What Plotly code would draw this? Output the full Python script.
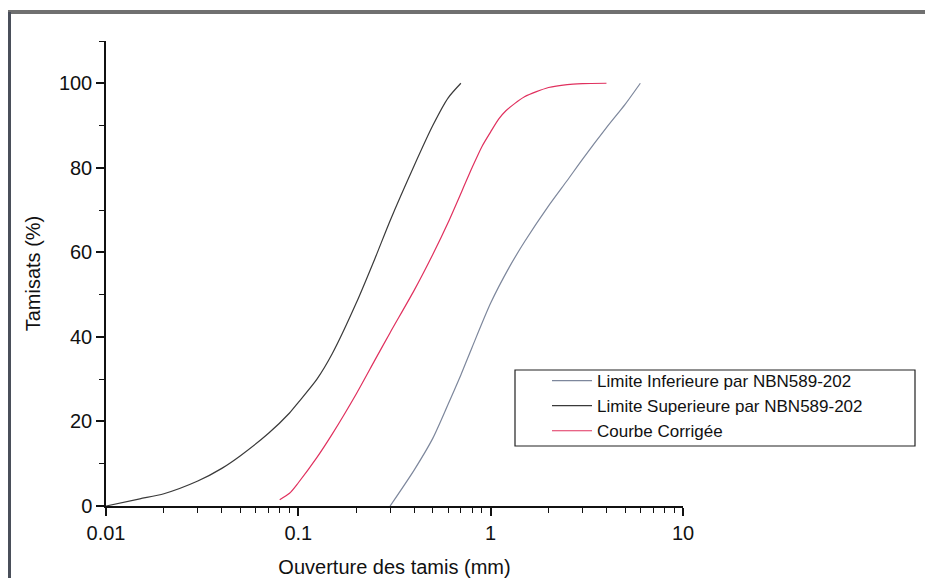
import plotly.graph_objects as go

# ---- data ----
inf_x = [0.3, 0.4, 0.5, 0.6, 0.7, 0.8, 1.0, 1.25, 1.5, 2.0, 2.5, 3.0, 4.0, 5.0, 6.0]
inf_y = [0, 8.5, 16, 24, 31, 37.5, 48, 56.5, 62.5, 71, 77, 82, 89.5, 95, 100]

sup_x = [0.01, 0.015, 0.02, 0.03, 0.04, 0.05, 0.07, 0.09, 0.1, 0.125, 0.15, 0.2, 0.25, 0.3, 0.4, 0.5, 0.6, 0.7]
sup_y = [0, 1.7, 2.9, 5.9, 8.9, 11.9, 17.2, 22.0, 24.5, 30.0, 36.0, 48.0, 58.5, 67.5, 80.5, 90, 96.5, 100]

cor_x = [0.08, 0.09, 0.1, 0.125, 0.15, 0.2, 0.25, 0.3, 0.4, 0.5, 0.6, 0.8, 0.9, 1.0, 1.1, 1.2, 1.5, 2.0, 2.5, 3.0, 4.0]
cor_y = [1.5, 3.0, 5.5, 11.5, 17, 26.5, 34.5, 41, 51, 59.5, 67, 80, 85, 88.5, 91.5, 93.5, 96.8, 99, 99.7, 99.9, 100]

names = ["Limite Inferieure par NBN589-202", "Limite Superieure par NBN589-202", "Courbe Corrigée"]
x_tickvals = [0.01, 0.1, 1, 10]
x_ticktext = ["0.01", "0.1", "1", "10"]

FONT = "Liberation Sans, Arial, sans-serif"
SM = 0.7

fig = go.Figure()
fig.add_trace(go.Scatter(x=inf_x, y=inf_y, name=names[0], mode="lines",
                         line=dict(color="#7d879c", width=1.2, shape="spline", smoothing=SM)))
fig.add_trace(go.Scatter(x=sup_x, y=sup_y, name=names[1], mode="lines",
                         line=dict(color="#3a3a3a", width=1.2, shape="spline", smoothing=SM)))
fig.add_trace(go.Scatter(x=cor_x, y=cor_y, name=names[2], mode="lines",
                         line=dict(color="#e0305e", width=1.2, shape="spline", smoothing=SM)))

# page body has an 8px margin: figure coordinates = screen - 8
OFF = 8
W, H = 925, 570
L, T = 106 - OFF, 41 - OFF
PR, PB = 683 - OFF, 506 - OFF
R, B = W - PR, H - PB
pw, ph = PR - L, PB - T

def px(xs):
    return (xs - OFF - L) / pw

def py(ys):
    return (PB - (ys - OFF)) / ph

fig.update_layout(
    width=W, height=H,
    margin=dict(l=L, r=R, t=T, b=B, autoexpand=False),
    paper_bgcolor="white", plot_bgcolor="white",
    font=dict(family=FONT, size=20, color="#111"),
    showlegend=True,
    legend=dict(x=px(547), y=py(363), xanchor="left", yanchor="top",
                bgcolor="rgba(0,0,0,0)", borderwidth=0,
                font=dict(family=FONT, size=17, color="#111"),
                itemwidth=40, tracegroupgap=0),
    xaxis=dict(type="log", range=[-2, 1], showgrid=False, zeroline=False,
               showline=True, linecolor="#111", linewidth=1.5,
               ticks="outside", ticklen=8, tickwidth=1.5, tickcolor="#111",
               tickvals=x_tickvals, ticktext=x_ticktext,
               tickfont=dict(family=FONT, size=20, color="#111"),
               minor=dict(ticks="outside", ticklen=5, tickwidth=1.2, tickcolor="#111",
                          dtick="D1", showgrid=False),
               title=dict(text="Ouverture des tamis (mm)", standoff=17,
                          font=dict(family=FONT, size=20, color="#111")),
               anchor="y", automargin=False),
    yaxis=dict(range=[0, 110], showgrid=False, zeroline=False,
               showline=True, linecolor="#111", linewidth=1.5,
               ticks="outside", ticklen=8, tickwidth=1.5, tickcolor="#111",
               tick0=0, dtick=20,
               tickfont=dict(family=FONT, size=20, color="#111"),
               minor=dict(ticks="outside", ticklen=5, tickwidth=1.2, tickcolor="#111",
                          dtick=10, showgrid=False),
               title=dict(text="Tamisats (%)", standoff=13,
                          font=dict(family=FONT, size=20, color="#111")),
               automargin=False),
)

# legend box
fig.add_shape(type="rect", xref="paper", yref="paper",
              x0=px(515), x1=px(915), y0=py(446), y1=py(370),
              line=dict(color="#222", width=1.2), fillcolor="rgba(0,0,0,0)")
# outer scan frame
fig.add_shape(type="line", xref="paper", yref="paper",
              x0=px(8), x1=px(933), y0=py(12), y1=py(12),
              line=dict(color="#707070", width=4))
fig.add_shape(type="line", xref="paper", yref="paper",
              x0=px(9.5), x1=px(9.5), y0=py(12), y1=py(578),
              line=dict(color="#4a4f5a", width=3))

fig.write_html("out.html")
